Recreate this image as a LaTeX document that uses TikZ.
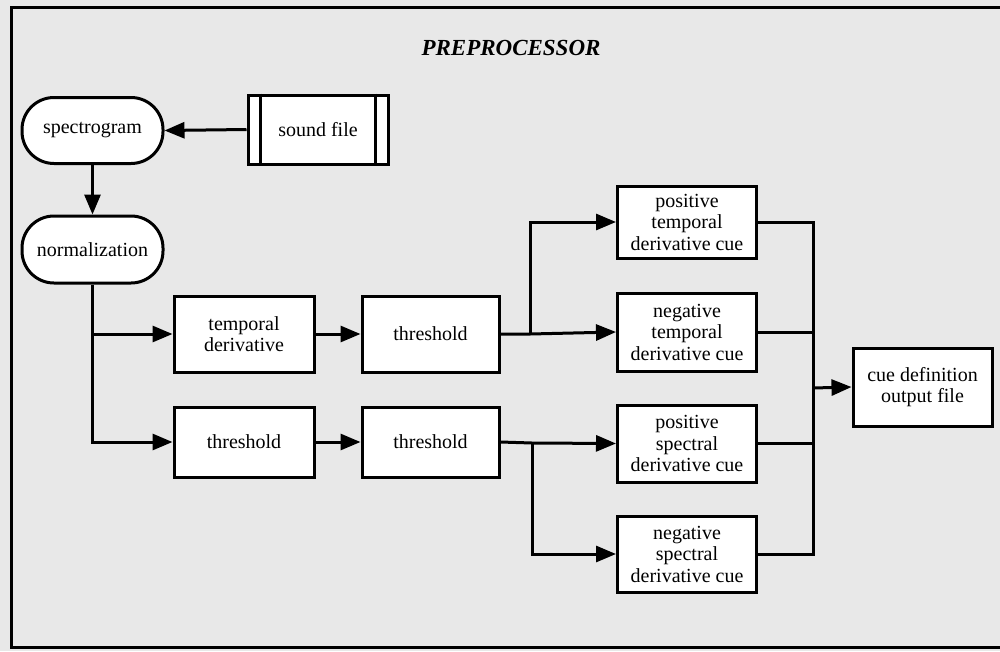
\documentclass[tikz,border=0pt]{standalone}
\usepackage{fontspec}
\setmainfont{Liberation Serif}
\usetikzlibrary{arrows.meta}
\definecolor{panelgray}{HTML}{E8E8E8}
\begin{document}
\begin{tikzpicture}[x=1pt,y=-1pt,
  line width=3pt,
  every node/.style={font=\rmfamily\fontsize{20}{21.5}\selectfont, align=center, inner sep=0pt},
  proc/.style={draw, fill=white, rectangle},
  term/.style={draw, fill=white, rectangle, rounded corners=32pt, minimum width=141pt},
  flow/.style={-{Triangle[length=20pt,width=16pt]}},
]
% canvas and frame
\useasboundingbox (0,0) rectangle (1000,651);
\fill[panelgray] (0,0) rectangle (1000,651);
\draw (11.5,7.5) rectangle (1010,647.5);

\node[font=\rmfamily\fontsize{23}{25}\selectfont\bfseries\itshape] (title) at (511,48) {PREPROCESSOR};

% source and first stages
\node[term, minimum height=66pt] (spec) at (92.5,130.5) {spectrogram};
\node[proc, minimum width=140pt, minimum height=69pt] (snd) at (318,129.5) {sound file};
\draw ([xshift=14pt]snd.north west) -- ([xshift=14pt]snd.south west);
\draw ([xshift=-14pt]snd.north east) -- ([xshift=-14pt]snd.south east);
\node[term, minimum height=67pt] (norm) at (92.5,249.5) {normalization};

% middle stages
\node[proc, minimum width=140pt, minimum height=76pt] (tder) at (244,334) {temporal\\derivative};
\node[proc, minimum width=137pt, minimum height=76pt] (th1) at (430.5,334) {threshold};
\node[proc, minimum width=140pt, minimum height=70pt] (th2) at (244,442) {threshold};
\node[proc, minimum width=137pt, minimum height=70pt] (th3) at (430.5,442) {threshold};

% cue outputs
\node[proc, minimum width=139pt, minimum height=72pt] (ptc) at (687,222) {positive\\temporal\\derivative cue};
\node[proc, minimum width=139pt, minimum height=78pt] (ntc) at (687,332) {negative\\temporal\\derivative cue};
\node[proc, minimum width=139pt, minimum height=77pt] (psc) at (687,443.5) {positive\\spectral\\derivative cue};
\node[proc, minimum width=139pt, minimum height=76pt] (nsc) at (687,554) {negative\\spectral\\derivative cue};
\node[proc, minimum width=139pt, minimum height=78pt] (out) at (922.5,387) {cue definition\\output file};

% connectors
\draw[flow] (snd.west) -- (spec.east);
\draw[flow] (spec.south) -- (norm.north);
\draw[flow] (norm.south) |- (th2.west);
\draw[flow] (norm.south |- tder.west) -- (tder.west);
\draw[flow] (tder.east) -- (th1.west);
\draw[flow] (th2.east) -- (th3.west);

\coordinate (j1) at (530,334);
\draw[flow] (th1.east) -- (j1) -- (ntc.west);
\draw[flow] (j1) |- (ptc.west);

\coordinate (j2) at (532,443);
\draw[flow] (th3.east) -- (j2) -- (psc.west);
\draw[flow] (j2) |- (nsc.west);

\coordinate (bus) at (813,388);
\draw (ptc.east) -| (bus |- nsc.east) -- (nsc.east);
\draw (ntc.east) -- (bus |- ntc.east);
\draw (psc.east) -- (bus |- psc.east);
\draw[flow] (bus) -- (out.west);
\end{tikzpicture}
\end{document}
